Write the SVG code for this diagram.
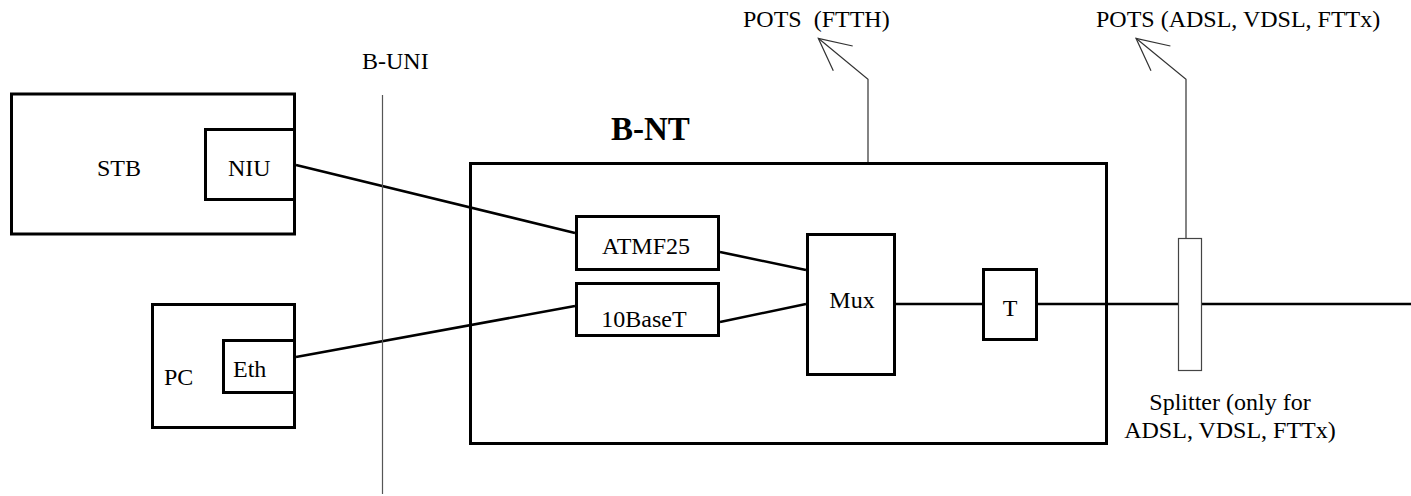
<svg xmlns="http://www.w3.org/2000/svg" width="1411" height="496" viewBox="0 0 1411 496">
<style>
  .box { fill: none; stroke: #000; stroke-width: 3; }
  .conn { fill: none; stroke: #000; stroke-width: 2.6; }
  .thin { fill: none; stroke: #333; stroke-width: 1.2; }
  .lbl { font-family: "Liberation Serif", "Times New Roman", serif; font-size: 24px; fill: #000; white-space: pre; }
  .big { font-family: "Liberation Serif", "Times New Roman", serif; font-size: 33px; font-weight: bold; fill: #000; }
</style>
<rect width="1411" height="496" fill="#fff"/>

<g id="connectors">
  <line class="conn" x1="296" y1="165" x2="575" y2="233"/>
  <line class="conn" x1="296" y1="357" x2="575" y2="306"/>
  <line class="conn" x1="720" y1="252" x2="806" y2="270"/>
  <line class="conn" x1="720" y1="322" x2="806" y2="304"/>
  <line class="conn" x1="896" y1="304" x2="982" y2="304"/>
  <line class="conn" x1="1038" y1="304" x2="1411" y2="304"/>
  <polyline class="thin" points="868,162 868,79.3 818.3,38.3"/>
  <polyline class="thin" points="852.7,46 818.3,38.3 833.3,70.7"/>
  <polyline class="thin" points="1186,238 1186,79.3 1136,38.3"/>
  <polyline class="thin" points="1170.4,46 1136,38.3 1151,70.7"/>
</g>

<g id="b-uni">
  <line x1="382.5" y1="95" x2="382.5" y2="494" stroke="#555" stroke-width="1.2"/>
  <text class="lbl" x="362" y="69">B-UNI</text>
</g>

<g id="stb">
  <rect class="box" x="11.5" y="94" width="283" height="140"/>
  <text class="lbl" x="97" y="176">STB</text>
</g>
<g id="niu">
  <rect class="box" x="205.5" y="129.5" width="89" height="70"/>
  <text class="lbl" x="228" y="176">NIU</text>
</g>

<g id="pc">
  <rect class="box" x="152.5" y="304.5" width="142" height="123"/>
  <text class="lbl" x="164" y="385">PC</text>
</g>
<g id="eth">
  <rect class="box" x="223.5" y="340.5" width="71" height="52"/>
  <text class="lbl" x="233" y="377">Eth</text>
</g>

<g id="b-nt">
  <rect class="box" x="470.5" y="163.5" width="636" height="280"/>
  <text class="big" x="611" y="140">B-NT</text>
</g>

<g id="atmf25">
  <rect class="box" x="576.5" y="216.5" width="142" height="53"/>
  <text class="lbl" x="646" y="254" text-anchor="middle">ATMF25</text>
</g>
<g id="10baset">
  <rect class="box" x="576.5" y="283.5" width="142" height="52"/>
  <text class="lbl" x="644" y="327" text-anchor="middle">10BaseT</text>
</g>
<g id="mux">
  <rect class="box" x="807.5" y="234.5" width="87" height="140"/>
  <text class="lbl" x="852" y="308" text-anchor="middle">Mux</text>
</g>
<g id="t">
  <rect class="box" x="983.5" y="269.5" width="53" height="70"/>
  <text class="lbl" x="1010" y="316" text-anchor="middle">T</text>
</g>

<g id="splitter">
  <rect x="1178.5" y="238.5" width="23" height="132" fill="#fff" stroke="#444" stroke-width="1.2"/>
  <text class="lbl" x="1230" y="410" text-anchor="middle">Splitter (only for</text>
  <text class="lbl" x="1230" y="438" text-anchor="middle">ADSL, VDSL, FTTx)</text>
</g>

<g id="pots-ftth">
  <text class="lbl" x="743" y="27">POTS  (FTTH)</text>
</g>
<g id="pots-adsl">
  <text class="lbl" x="1096" y="27">POTS (ADSL, VDSL, FTTx)</text>
</g>
</svg>
